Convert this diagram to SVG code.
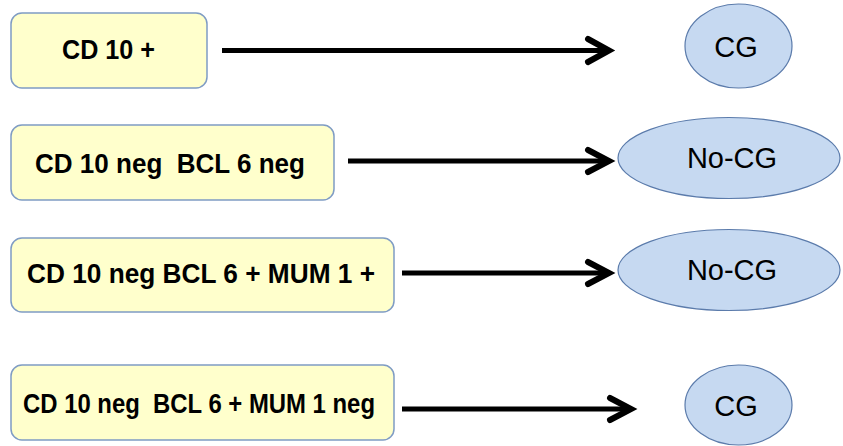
<svg xmlns="http://www.w3.org/2000/svg" width="843" height="446" viewBox="0 0 843 446">
<defs>
<style>
.box{fill:#FFFFCC;stroke:#7F9CC4;stroke-width:1.5}
.ell{fill:#C6D9F1;stroke:#5B7BAB;stroke-width:1.2}
.bt{font-family:"Liberation Sans",Arial,sans-serif;font-weight:bold;font-size:27px;fill:#000;white-space:pre}
.et{font-family:"Liberation Sans",Arial,sans-serif;font-size:29px;fill:#000;text-anchor:middle}
.ln{stroke:#000;stroke-width:5;fill:none}
.hd{stroke:#000;stroke-width:6;fill:none;stroke-linecap:round;stroke-linejoin:miter}
</style>
</defs>
<rect width="843" height="446" fill="#fff"/>
<g id="n1"><rect class="box" x="11" y="13" width="196" height="75" rx="11"/><text class="bt" x="62" y="59" textLength="93" lengthAdjust="spacingAndGlyphs">CD 10 +</text></g>
<g id="n2"><rect class="box" x="11" y="125" width="323" height="75" rx="11"/><text class="bt" x="35" y="173" textLength="270" lengthAdjust="spacingAndGlyphs">CD 10 neg  BCL 6 neg</text></g>
<g id="n3"><rect class="box" x="11" y="238" width="383" height="74" rx="11"/><text class="bt" x="27" y="283" textLength="348" lengthAdjust="spacingAndGlyphs">CD 10 neg BCL 6 + MUM 1 +</text></g>
<g id="n4"><rect class="box" x="11" y="365" width="383" height="75" rx="11"/><text class="bt" x="23" y="413" textLength="352" lengthAdjust="spacingAndGlyphs">CD 10 neg  BCL 6 + MUM 1 neg</text></g>
<g id="e1"><ellipse class="ell" cx="738.5" cy="46" rx="53.5" ry="42"/><text class="et" x="736" y="57">CG</text></g>
<g id="e2"><ellipse class="ell" cx="729" cy="158" rx="111" ry="40.5"/><text class="et" x="732" y="168">No-CG</text></g>
<g id="e3"><ellipse class="ell" cx="729" cy="270" rx="111" ry="40.5"/><text class="et" x="732" y="280">No-CG</text></g>
<g id="e4"><ellipse class="ell" cx="738.5" cy="405" rx="53.5" ry="40"/><text class="et" x="736" y="416">CG</text></g>
<g id="connectors">
<line class="ln" x1="222" y1="50.5" x2="608" y2="50.5"/>
<polyline class="hd" points="588,39 609,50.5 588,62"/>
<line class="ln" x1="348" y1="161" x2="608" y2="161"/>
<polyline class="hd" points="588,150 609,161 588,172"/>
<line class="ln" x1="402" y1="273" x2="608" y2="273"/>
<polyline class="hd" points="588,262 609,273 588,284"/>
<line class="ln" x1="402" y1="409" x2="630" y2="409"/>
<polyline class="hd" points="610,398 631,409 610,420"/>
</g>
</svg>
